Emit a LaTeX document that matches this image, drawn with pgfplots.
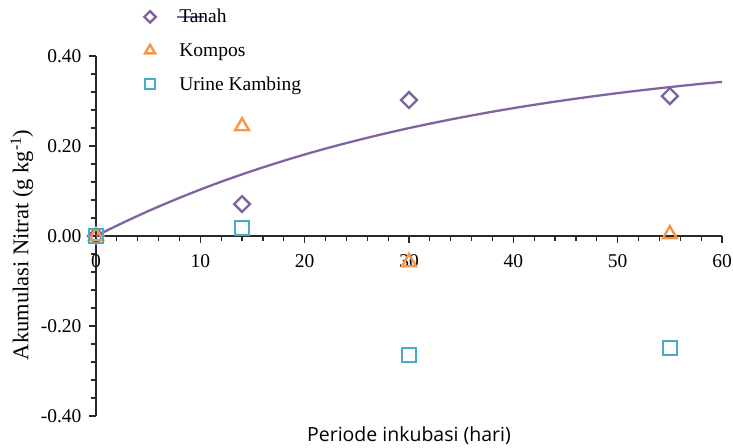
\documentclass[border=0pt]{standalone}
\usepackage{fontspec}
\setmainfont{Liberation Serif}
\newfontfamily\labelsans{Open Sans}
\usepackage{pgfplots}
\pgfplotsset{compat=1.18}
\definecolor{cTanah}{RGB}{128,100,162}
\definecolor{cKompos}{RGB}{247,150,70}
\definecolor{cUrine}{RGB}{75,172,198}
\definecolor{axisgray}{RGB}{40,40,40}
\pgfplotsset{
  mark legend/.style={legend image code/.code={\path (0bp,0bp) (37bp,0bp);
    \draw[mark repeat=2, mark phase=2, ##1, every mark/.append style={scale=0.72}]
    plot coordinates {(0bp,0bp) (10bp,0bp) (37bp,0bp)};}},
  % the Tanah entry also carries a stroke of the fitted curve across its text
  tanah legend/.style={legend image code/.code={\path (0bp,0bp) (37bp,0bp);
    \draw[mark repeat=2, mark phase=2, ##1, every mark/.append style={scale=0.72}]
    plot coordinates {(0bp,0bp) (10bp,0bp) (37bp,0bp)};
    \draw[overlay, cTanah, line width=2.3bp] (37bp,0bp) -- (64bp,0bp);}},
}

\begin{document}
\begin{tikzpicture}
\useasboundingbox (-96bp,-32bp) rectangle (637bp,416bp);
\begin{axis}[
  scale only axis, width=626bp, height=360bp,
  xmin=0, xmax=60, ymin=-0.4, ymax=0.4,
  axis x line=middle, axis y line=left,
  axis line style={-, line width=1.3bp, axisgray},
  xtick={0,10,...,60}, minor x tick num=4,
  ytick={-0.4,-0.2,0,0.2,0.4}, minor y tick num=4,
  tick align=outside, major tick length=7bp, minor tick length=5bp,
  tick style={line width=1.2bp, axisgray},
  hide obscured x ticks=false,
  font=\fontsize{19.5bp}{23bp}\selectfont,
  /pgf/number format/assume math mode=true,
  yticklabel style={xshift=-4bp, /pgf/number format/.cd, fixed, fixed zerofill, precision=2},
  xticklabel style={yshift=-8bp},
  ylabel={Akumulasi Nitrat (g kg\textsuperscript{-1})},
  ylabel style={at={(axis description cs:-0.1185,0.475)}, anchor=center,
    font=\fontsize{22.5bp}{26bp}\selectfont},
  xlabel={Periode inkubasi (hari)},
  xlabel style={at={(rel axis cs:0.5,0)}, anchor=north, yshift=-7bp,
    font=\fontsize{19.5bp}{23bp}\selectfont\labelsans},
  clip=false,
  legend cell align=left,
  legend style={draw=none, fill=none, at={(axis cs:3.9,0.513)}, anchor=north west,
    row sep=15bp, font=\fontsize{19.5bp}{23bp}\selectfont},
  mark legend,
]
% fitted accumulation curve for Tanah
\addplot[cTanah, line width=2.3bp, smooth, forget plot] coordinates {
  (0,0) (2,0.0230) (4,0.0448) (6,0.0654) (8,0.0848) (10,0.1032)
  (12,0.1206) (14,0.1370) (16,0.1525) (18,0.1672) (20,0.1811)
  (22,0.1942) (24,0.2065) (26,0.2182) (28,0.2293) (30,0.2398)
  (32,0.2496) (34,0.2590) (36,0.2678) (38,0.2762) (40,0.2841)
  (42,0.2915) (44,0.2986) (46,0.3052) (48,0.3115) (50,0.3175)
  (52,0.3231) (54,0.3284) (56,0.3334) (58,0.3382) (60,0.3426)
};
\addplot[only marks, mark=square, mark size=5.6bp,
  mark options={rotate=45, draw=cTanah, line width=2.4bp, fill=white},
  tanah legend] coordinates {
  (0,0) (14,0.071) (30,0.302) (55,0.311)
};
\addlegendentry{Tanah}
\addplot[only marks, mark=triangle, mark size=8bp,
  mark options={draw=cKompos, line width=2.4bp, fill=white}] coordinates {
  (0,0) (14,0.244) (30,-0.058) (55,0.004)
};
\addlegendentry{Kompos}
\addplot[only marks, mark=square, mark size=7bp,
  mark options={draw=cUrine, line width=2.4bp, fill=white}] coordinates {
  (0,0) (14,0.018) (30,-0.264) (55,-0.249)
};
\addlegendentry{Urine Kambing}
\end{axis}
\end{tikzpicture}
\end{document}
